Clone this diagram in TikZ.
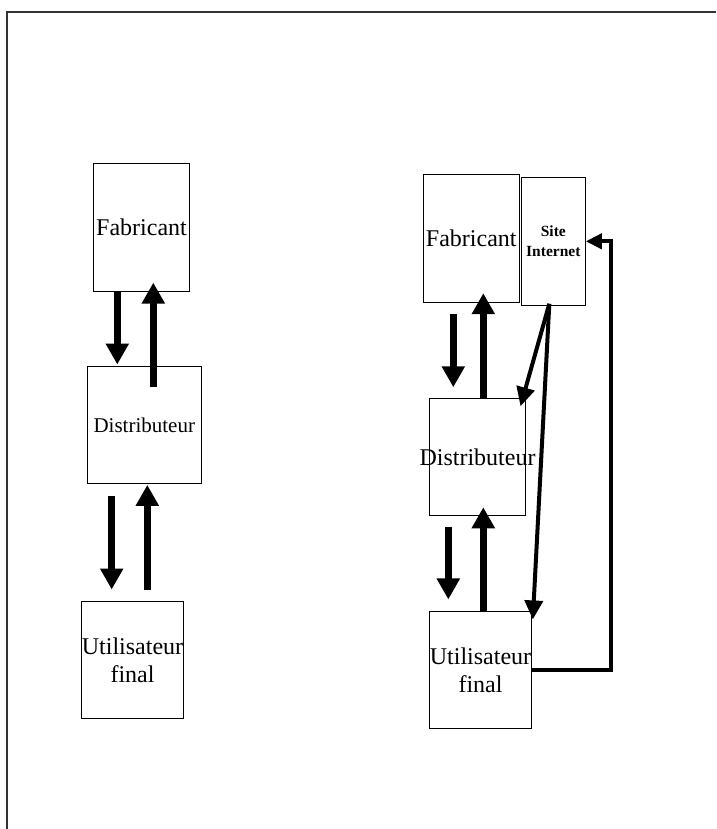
\documentclass[tikz,border=0pt]{standalone}
\usepackage{fontspec}
\setmainfont{Liberation Serif}
\usetikzlibrary{arrows.meta,calc}
\newcommand{\cx}[1]{\makebox[0pt][c]{#1}}
\begin{document}
\begin{tikzpicture}[x=1pt,y=-1pt,
  box/.style={draw=black,line width=1pt,rectangle,inner sep=0pt,align=center,font=\fontsize{24}{28}\selectfont},
  bigarrow/.style={line width=7pt,-{Triangle[width=22pt,length=21pt]}},
  midarrow/.style={line width=4pt,-{Triangle[width=18pt,length=19pt]}},
  backarrow/.style={line width=4pt,line join=miter,-{Triangle[width=15pt,length=16pt]}},
  frame/.style={line width=1.6pt,draw=black!80}]
\useasboundingbox (0,0) rectangle (716,829);
\draw[frame] (7,829) -- (7,12) -- (716,12);

% left column
\node[box,minimum width=96pt,minimum height=128pt] (fabL) at (141.5,227.5) {\cx{Fabricant}};
\node[box,minimum width=114pt,minimum height=117.7pt,font=\fontsize{21}{25}\selectfont] (distL) at (144.3,424.9) {\cx{Distributeur}};
\node[box,minimum width=102.4pt,minimum height=117pt] (utilL) at (132.5,659.8) {\cx{Utilisateur}\\\cx{final}};

\draw[bigarrow] ($(fabL.south)+(-24.2,0)$) -- ($(distL.north)+(-27,-1)$);
\draw[bigarrow] ($(distL.north)+(9,21.7)$) -- ($(fabL.south)+(11.8,-9.4)$);
\draw[bigarrow] ($(distL.south)+(-32.6,11.3)$) -- ($(utilL.north)+(-20.8,-11.3)$);
\draw[bigarrow] ($(utilL.north)+(14.8,-10.6)$) -- ($(distL.south)+(3,0.6)$);

% right column
\node[box,minimum width=96pt,minimum height=128pt] (fabR) at (471.3,238.3) {\cx{Fabricant}};
\node[box,minimum width=64pt,minimum height=128pt,font=\fontsize{15.5}{20}\selectfont\bfseries] (siteR) at (553.3,241.3) {\cx{Site}\\\cx{Internet}};
\node[box,minimum width=96.4pt,minimum height=117.7pt] (distR) at (477.5,456.9) {\cx{Distributeur}};
\node[box,minimum width=102.4pt,minimum height=117.3pt] (utilR) at (480.5,670.3) {\cx{Utilisateur}\\\cx{final}};

\draw[bigarrow] ($(fabR.south)+(-18,11)$) -- ($(distR.north)+(-24.2,-10.3)$);
\draw[bigarrow] ($(distR.north)+(5.8,0)$) -- ($(fabR.south)+(12,-9.6)$);
\draw[bigarrow] ($(distR.south)+(-29.2,10.3)$) -- ($(utilR.north)+(-32.2,-11.7)$);
\draw[bigarrow] ($(utilR.north)+(2.8,0)$) -- ($(distR.south)+(5.8,-9)$);

\draw[midarrow] ($(siteR.south)+(-4,-2)$) -- ($(distR.north east)+(-5.7,8.7)$);
\draw[midarrow] ($(siteR.south)+(-4,-2)$) -- ($(utilR.north east)+(0.6,8.3)$);
\draw[backarrow] (utilR.east) -- ++(78.3,0) |- (siteR.east);
\end{tikzpicture}
\end{document}
